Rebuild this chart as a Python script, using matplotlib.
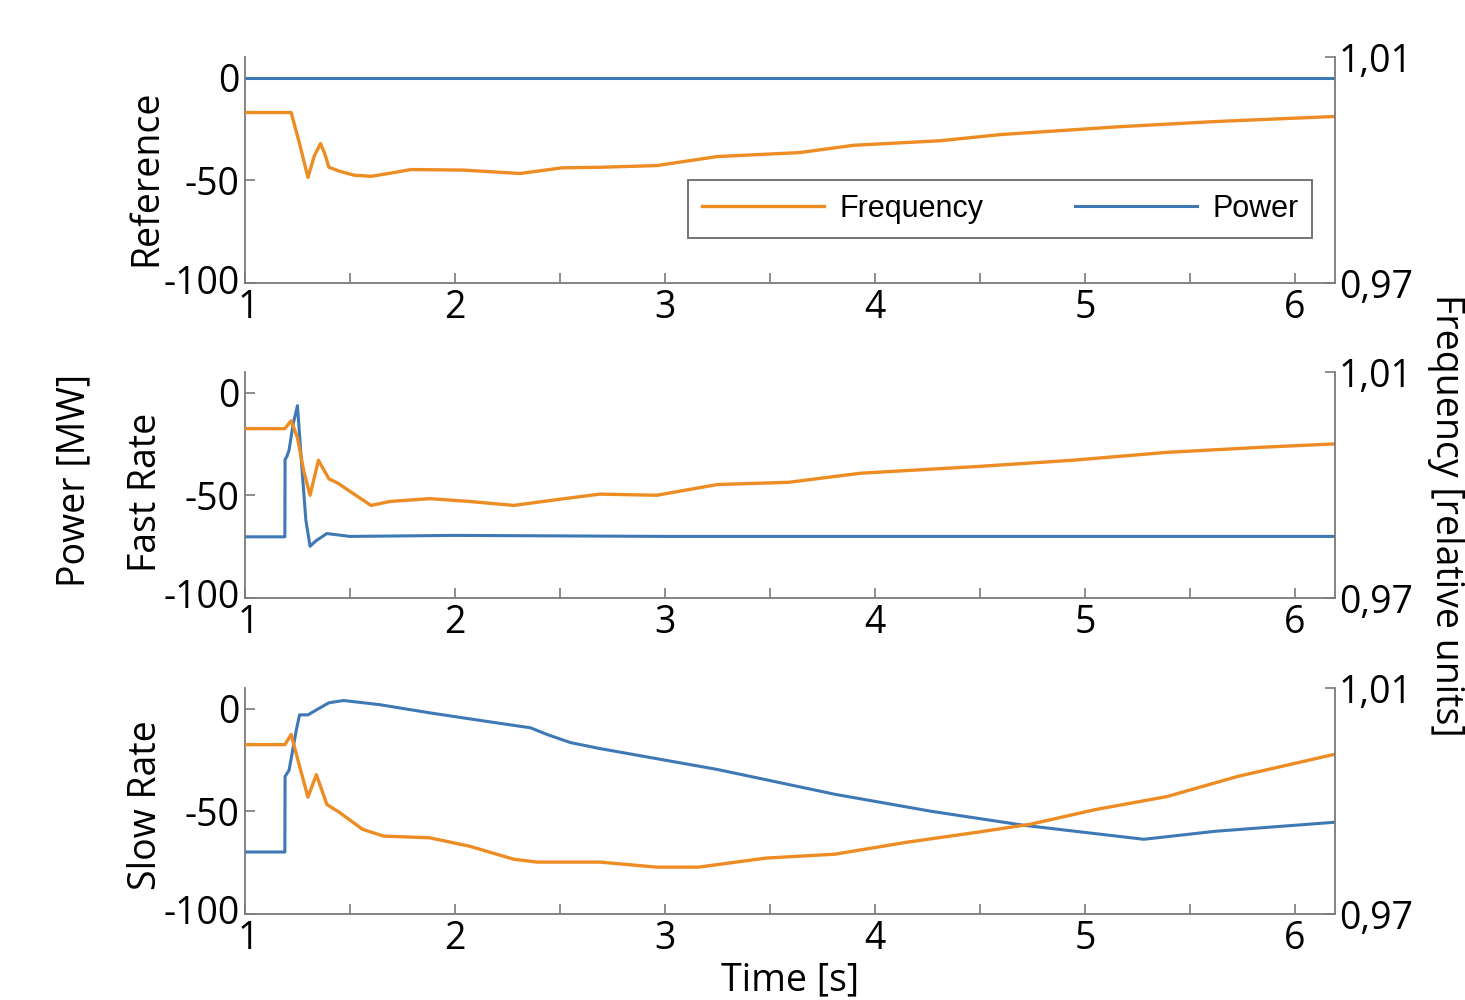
import numpy as np
import matplotlib
matplotlib.use('Agg')
import matplotlib.pyplot as plt
import matplotlib.transforms as mtransforms

plt.rcParams['font.family'] = ['Open Sans', 'DejaVu Sans']

# ---- data (time [s], power [MW], frequency [rel.]) ----
panel_names = ['Reference', 'Fast Rate', 'Slow Rate']

ref_freq_t = [1.0, 1.22, 1.26, 1.30, 1.33, 1.36, 1.38, 1.40, 1.45, 1.52, 1.60, 1.70,
              1.79, 2.04, 2.31, 2.51, 2.69, 2.96, 3.25, 3.64, 3.90, 4.31, 4.60, 5.17,
              5.62, 6.19]
ref_freq = [1.0002, 1.0002, 0.9947, 0.9887, 0.9925, 0.9947, 0.9929, 0.9905, 0.9898,
            0.9891, 0.9889, 0.9895, 0.9901, 0.9900, 0.9894, 0.9904, 0.9905, 0.9908,
            0.9924, 0.9931, 0.9944, 0.9952, 0.9963, 0.9977, 0.9986, 0.9995]
ref_pow_t = [1.0, 6.19]
ref_pow = [0, 0]

fast_freq_t = [1.0, 1.19, 1.22, 1.25, 1.28, 1.31, 1.35, 1.40, 1.44, 1.50, 1.60, 1.69,
               1.88, 2.07, 2.28, 2.50, 2.69, 2.96, 3.25, 3.59, 3.93, 4.49, 4.94, 5.39,
               5.84, 6.19]
fast_freq = [1.0000, 1.0000, 1.0014, 0.9984, 0.9925, 0.9882, 0.9944, 0.9911, 0.9904,
             0.9889, 0.9864, 0.9871, 0.9876, 0.9871, 0.9864, 0.9875, 0.9884, 0.9882,
             0.9901, 0.9905, 0.9921, 0.9933, 0.9944, 0.9958, 0.9967, 0.9973]
fast_pow_t = [1.0, 1.19, 1.191, 1.20, 1.21, 1.23, 1.25, 1.27, 1.29, 1.31, 1.34, 1.39,
              1.5, 2.0, 3.0, 4.0, 5.0, 6.19]
fast_pow = [-70.2, -70.2, -32.5, -31, -28, -15, -6.3, -35, -62, -74.8, -72, -68.6,
            -70, -69.5, -70, -70, -70, -70]

slow_freq_t = [1.0, 1.19, 1.22, 1.26, 1.30, 1.34, 1.39, 1.45, 1.56, 1.66, 1.88, 2.07,
               2.28, 2.39, 2.69, 2.96, 3.16, 3.48, 3.81, 4.15, 4.49, 4.74, 5.05, 5.39,
               5.73, 6.19]
slow_freq = [1.0000, 1.0000, 1.0018, 0.9962, 0.9907, 0.9947, 0.9894, 0.9880, 0.9850,
             0.9838, 0.9835, 0.9820, 0.9797, 0.9792, 0.9792, 0.9783, 0.9783, 0.9799,
             0.9806, 0.9827, 0.9845, 0.9859, 0.9885, 0.9908, 0.9944, 0.9983]
slow_pow_t = [1.0, 1.19, 1.191, 1.21, 1.245, 1.26, 1.30, 1.35, 1.40, 1.47, 1.64, 1.88,
              2.12, 2.36, 2.44, 2.55, 2.69, 3.25, 3.81, 4.27, 4.71, 5.28, 5.62, 6.19]
slow_pow = [-69.8, -69.8, -33, -30, -10.2, -3, -3, 0, 2.9, 4, 2, -2, -5.7, -9.3,
            -12.6, -16.5, -19.4, -29.6, -41.7, -50, -56.8, -63.6, -59.7, -55.3]

freq_t = [ref_freq_t, fast_freq_t, slow_freq_t]
freq = [ref_freq, fast_freq, slow_freq]
pow_t = [ref_pow_t, fast_pow_t, slow_pow_t]
pows = [ref_pow, fast_pow, slow_pow]

orange = '#EE8C24'
blue = '#3E78B5'
grey = '#7a7a7a'
fs = 27

fig = plt.figure(figsize=(14.65, 10), dpi=100)

bottoms = [0.717, 0.402, 0.086]
label_y = [178, 492, 805]

# nudge "-100" up and "1" right a little so they only just touch, as in the original
up = mtransforms.ScaledTranslation(0, 4 / 100, fig.dpi_scale_trans)
right = mtransforms.ScaledTranslation(3 / 100, 0, fig.dpi_scale_trans)

for i in range(3):
    ax = fig.add_axes([0.1672, bottoms[i], 0.744, 0.2258])
    ax2 = ax.twinx()

    lp, = ax.plot(pow_t[i], pows[i], color=blue, lw=2.2)
    lf, = ax2.plot(freq_t[i], freq[i], color=orange, lw=2.4)

    ax.set_xlim(1, 6.19)
    ax.set_ylim(-100, 10)
    ax2.set_ylim(0.97, 1.01)

    xt = np.arange(1, 6.01, 0.5)
    ax.set_xticks(xt)
    ax.set_xticklabels([str(int(v)) if v % 1 == 0 else '' for v in xt])
    ax.set_yticks([-100, -50, 0])
    ax.set_yticklabels(['-100', '-50', '0'])
    ax2.set_yticks([0.97, 1.01])
    ax2.set_yticklabels(['0,97', '1,01'])

    for a in (ax, ax2):
        a.spines['top'].set_visible(False)
        for s in a.spines.values():
            s.set_color(grey)
            s.set_linewidth(1.3)
    ax.spines['right'].set_visible(False)
    ax2.spines['left'].set_visible(False)
    ax2.spines['bottom'].set_visible(False)

    ax.tick_params(axis='x', direction='in', length=7, width=1.2, color=grey,
                   labelsize=fs, pad=4)
    ax.tick_params(axis='y', direction='in', length=7, width=1.2, color=grey,
                   labelsize=fs, pad=4)
    ax2.tick_params(axis='y', direction='in', length=7, width=1.2, color=grey,
                    labelsize=fs, pad=3)

    lab = ax.get_yticklabels()[0]
    lab.set_transform(lab.get_transform() + up)
    lab = ax.get_xticklabels()[0]
    lab.set_transform(lab.get_transform() + right)

    fig.text(146 / 1465, 1 - label_y[i] / 1000, panel_names[i], rotation=90,
             ha='center', va='center', fontsize=fs)

    if i == 0:
        leg = ax2.legend([lf, lp], ['Frequency', 'Power'], ncol=2, loc='center',
                         bbox_to_anchor=(0.693, 0.327), frameon=True, fancybox=False,
                         handlelength=4.0, handletextpad=0.5, columnspacing=3.0,
                         borderpad=0.45, prop={'family': 'Liberation Sans', 'size': 22})
        leg.get_frame().set_edgecolor('#444444')
        leg.get_frame().set_linewidth(1.3)

fig.text(74 / 1465, 1 - 480 / 1000, 'Power [MW]', rotation=90, ha='center',
         va='center', fontsize=fs)
fig.text(1446 / 1465, 1 - 515 / 1000, 'Frequency [relative units]', rotation=270,
         ha='center', va='center', fontsize=fs)
fig.text(790 / 1465, 1 - 980 / 1000, 'Time [s]', ha='center', va='center', fontsize=fs)

fig.savefig('out.png', dpi=100)
